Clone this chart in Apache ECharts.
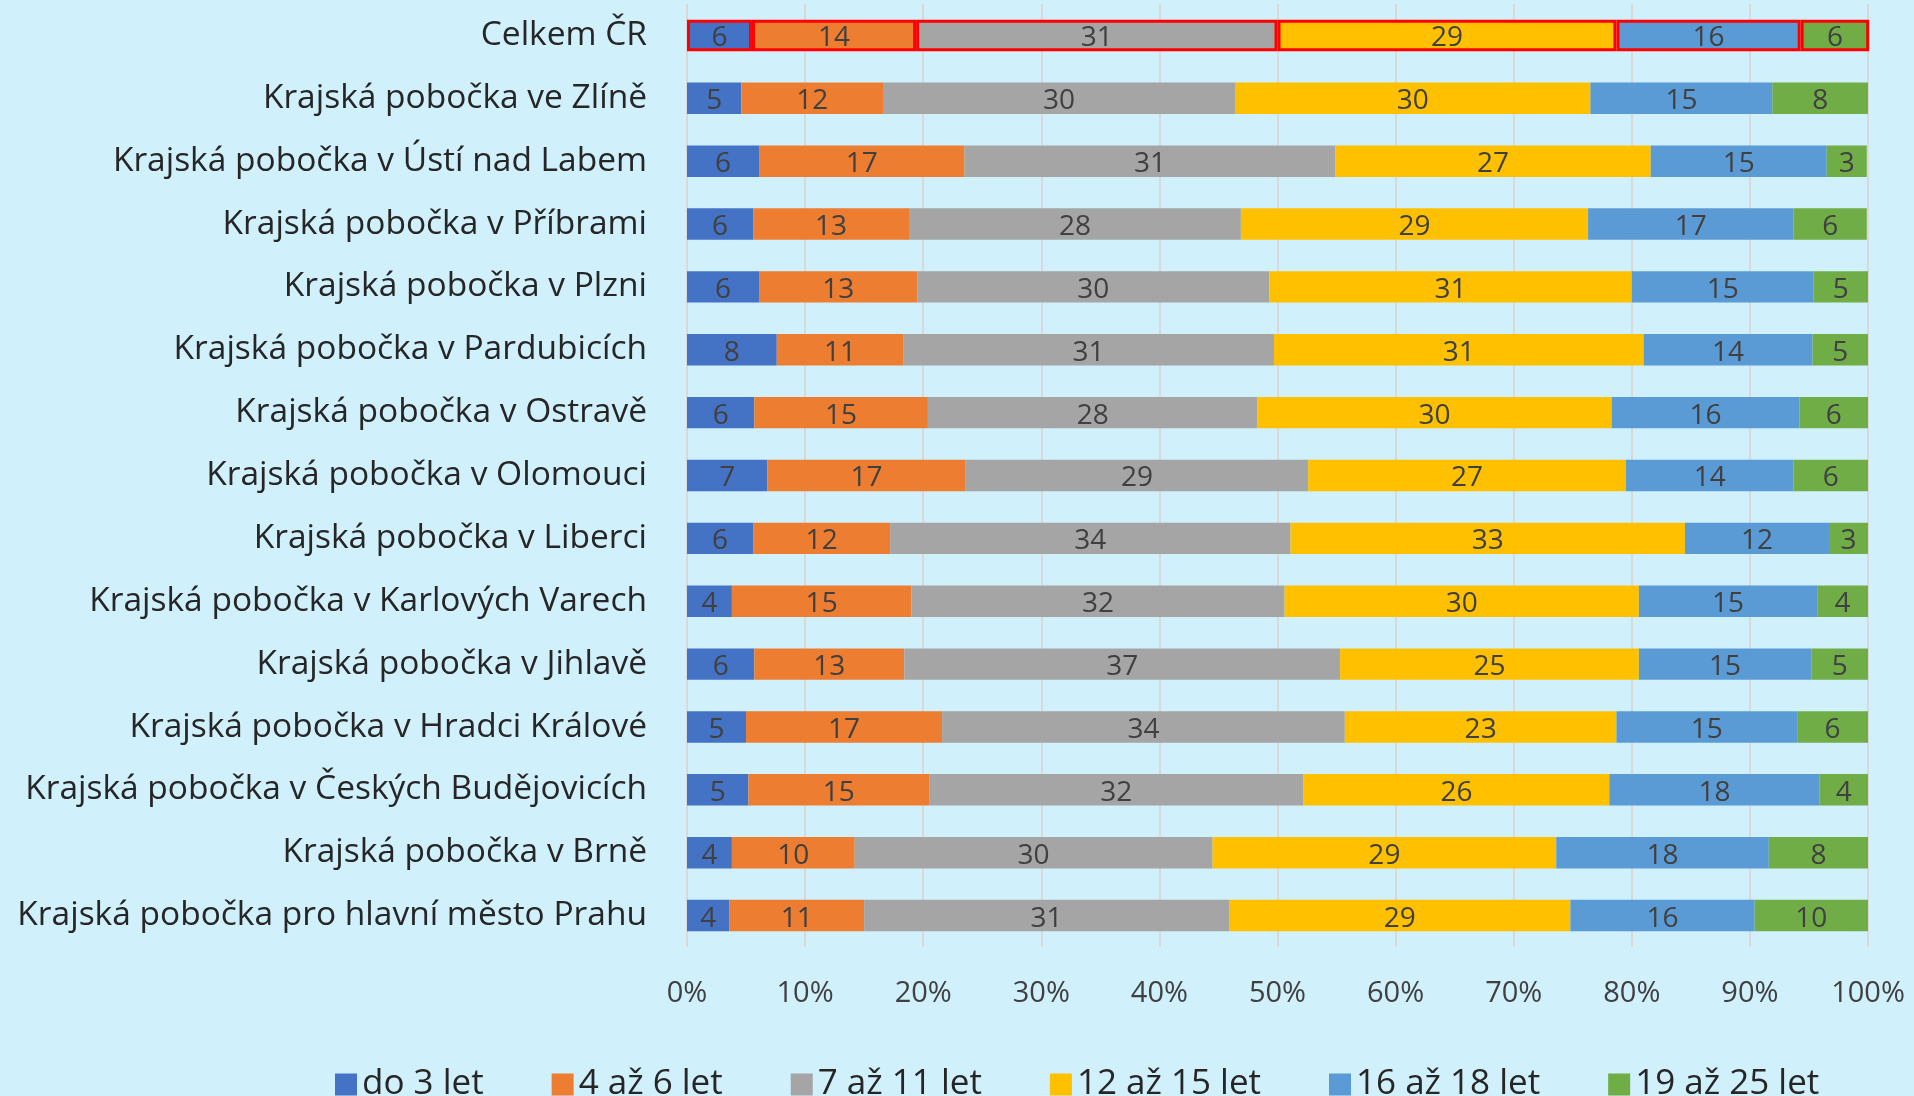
<!DOCTYPE html>
<html>
<head>
<meta charset="utf-8">
<script src="https://cdn.jsdelivr.net/npm/echarts@6/dist/echarts.min.js"></script>
<style>
  html, body { margin: 0; padding: 0; background: #d0f0fc; }
  #chart { width: 1914px; height: 1096px; }
</style>
</head>
<body>
<div id="chart"></div>
<script>
// kategorie shora dolu
var pobocky = [
  'Celkem ČR',
  'Krajská pobočka ve Zlíně',
  'Krajská pobočka v Ústí nad Labem',
  'Krajská pobočka v Příbrami',
  'Krajská pobočka v Plzni',
  'Krajská pobočka v Pardubicích',
  'Krajská pobočka v Ostravě',
  'Krajská pobočka v Olomouci',
  'Krajská pobočka v Liberci',
  'Krajská pobočka v Karlových Varech',
  'Krajská pobočka v Jihlavě',
  'Krajská pobočka v Hradci Králové',
  'Krajská pobočka v Českých Budějovicích',
  'Krajská pobočka v Brně',
  'Krajská pobočka pro hlavní město Prahu'
];
var skupiny = ['do 3 let', '4 až 6 let', '7 až 11 let', '12 až 15 let', '16 až 18 let', '19 až 25 let'];

// podily v % (odhad z obrazku), poradi jako pobocky
var do3   = [5.5, 4.6, 6.1, 5.6, 6.1, 7.6, 5.7, 6.8, 5.6, 3.8, 5.7, 5.0, 5.2, 3.8, 3.6];
var az6   = [13.9, 12.0, 17.4, 13.2, 13.4, 10.7, 14.7, 16.8, 11.6, 15.2, 12.7, 16.6, 15.3, 10.4, 11.4];
var az11  = [30.6, 29.8, 31.4, 28.1, 29.8, 31.4, 27.9, 29.0, 33.9, 31.6, 36.9, 34.1, 31.7, 30.3, 30.9];
var az15  = [28.7, 30.1, 26.7, 29.4, 30.7, 31.3, 30.0, 26.9, 33.4, 30.0, 25.3, 23.0, 25.9, 29.1, 28.9];
var az18  = [15.6, 15.4, 14.9, 17.4, 15.4, 14.3, 15.9, 14.2, 12.2, 15.1, 14.6, 15.3, 17.8, 18.0, 15.6];
var az25  = [5.8, 8.2, 3.4, 6.2, 4.6, 4.7, 5.8, 6.3, 3.4, 4.3, 4.8, 6.1, 4.1, 8.4, 9.6];

var hodnoty = [do3, az6, az11, az15, az18, az25];
var barvy = ['#4472c4', '#ed7d31', '#a5a5a5', '#ffc000', '#5b9bd5', '#70ad47'];
var pismo = 'Open Sans';

var series = skupiny.map(function (nazev, i) {
  return {
    name: nazev,
    type: 'bar',
    stack: 'celkem',
    barWidth: '50%',
    itemStyle: { color: barvy[i] },
    label: {
      show: true,
      position: 'inside',
      offset: [0, 3],
      color: '#404040',
      fontFamily: pismo,
      fontSize: 28,
      formatter: function (p) { return Math.round(p.value); }
    },
    data: hodnoty[i].map(function (v, j) {
      // celkem CR je oramovane cervene
      if (j === 0) {
        return { value: v, itemStyle: { borderColor: '#ff0000', borderWidth: 3 } };
      }
      return v;
    })
  };
});

var chart = echarts.init(document.getElementById('chart'));
chart.setOption({
  backgroundColor: '#d0f0fc',
  animation: false,
  color: barvy,
  grid: { left: 687, right: 46, top: 4, bottom: 149, containLabel: false },
  legend: {
    left: 330,
    top: 1062,
    icon: 'rect',
    itemWidth: 22,
    itemHeight: 22,
    itemGap: 68,
    textStyle: { fontFamily: pismo, fontSize: 35, color: '#262626' },
    data: skupiny
  },
  xAxis: {
    type: 'value',
    min: 0,
    max: 100,
    interval: 10,
    axisLine: { show: false },
    axisTick: { show: false },
    splitLine: { lineStyle: { color: '#d9d9d9', width: 2 } },
    axisLabel: {
      margin: 32,
      fontFamily: pismo,
      fontSize: 29,
      color: '#404040',
      formatter: '{value}%'
    }
  },
  yAxis: {
    type: 'category',
    inverse: true,
    data: pobocky,
    axisLine: { show: false },
    axisTick: { show: false },
    axisLabel: {
      margin: 40,
      padding: [5, 0, 0, 0],
      fontFamily: pismo,
      fontSize: 33.5,
      color: '#262626'
    }
  },
  series: series
});
</script>
</body>
</html>
